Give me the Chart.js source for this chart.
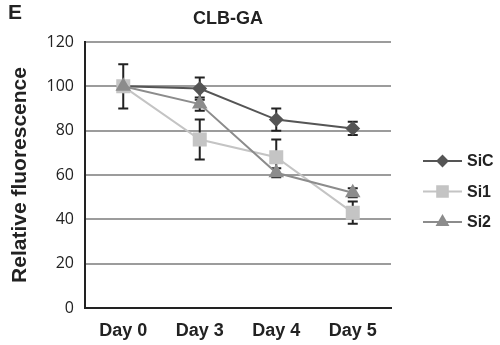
<!DOCTYPE html>
<html>
<head>
<meta charset="utf-8">
<script src="https://cdn.jsdelivr.net/npm/chart.js@4/dist/chart.umd.min.js"></script>
<style>
  html, body { margin: 0; padding: 0; background: #fff; }
  #wrap { width: 500px; height: 345px; position: relative; }
</style>
</head>
<body>
<div id="wrap"><canvas id="myChart" width="500" height="345"></canvas></div>
<script>
var days = ['Day 0', 'Day 3', 'Day 4', 'Day 5'];
var sicValues = [100, 99, 85, 81];
var si1Values = [100, 76, 68, 43];
var si2Values = [100, 92, 61, 52];
var sicErrors = [0, 5, 5, 3];
var si1Errors = [10, 9, 8, 5];
var si2Errors = [0, 3, 2, 2];
var yTicks = [0, 20, 40, 60, 80, 100, 120];

var seriesNames = ['SiC', 'Si1', 'Si2'];
var seriesColors = ['#555555', '#c4c4c4', '#8c8c8c'];
var seriesMarkers = ['rectRot', 'rect', 'triangle'];
var seriesRadius = [6, 8.5, 7];

var labelFont = 'Liberation Sans, Arial, sans-serif';

// error bars, drawn with the y scale before the lines so markers sit on top
var errorBars = {
  id: 'errorBars',
  beforeDatasetsDraw: function(chart) {
    var ctx = chart.ctx;
    var y = chart.scales.y;
    var errs = [sicErrors, si1Errors, si2Errors];
    ctx.save();
    ctx.strokeStyle = '#222';
    ctx.lineWidth = 2;
    for (var d = 0; d < chart.data.datasets.length; d++) {
      var meta = chart.getDatasetMeta(d);
      var vals = chart.data.datasets[d].data;
      for (var i = 0; i < meta.data.length; i++) {
        if (!errs[d][i]) continue;
        var px = meta.data[i].x;
        var top = y.getPixelForValue(vals[i] + errs[d][i]);
        var bot = y.getPixelForValue(vals[i] - errs[d][i]);
        ctx.beginPath();
        ctx.moveTo(px, top); ctx.lineTo(px, bot);
        ctx.moveTo(px - 5, top); ctx.lineTo(px + 5, top);
        ctx.moveTo(px - 5, bot); ctx.lineTo(px + 5, bot);
        ctx.stroke();
      }
    }
    ctx.restore();
  }
};

// legend with line + marker, the title and the panel letter
var sideLegend = {
  id: 'sideLegend',
  afterDraw: function(chart) {
    var ctx = chart.ctx;
    var area = chart.chartArea;
    var x0 = area.right + 32;
    var yStart = (area.top + area.bottom) / 2 - 14;
    ctx.save();
    for (var i = 0; i < seriesNames.length; i++) {
      var yy = yStart + i * 30.5;
      ctx.strokeStyle = seriesColors[i];
      ctx.lineWidth = 2;
      ctx.beginPath();
      ctx.moveTo(x0, yy); ctx.lineTo(x0 + 39, yy);
      ctx.stroke();
      ctx.fillStyle = seriesColors[i];
      ctx.beginPath();
      Chart.helpers.drawPoint(ctx, { pointStyle: seriesMarkers[i], radius: seriesRadius[i] - 1, borderWidth: 1 }, x0 + 19.5, yy);
      ctx.fill();
      ctx.fillStyle = '#222';
      ctx.font = 'bold 16px ' + labelFont;
      ctx.textBaseline = 'middle';
      ctx.textAlign = 'left';
      ctx.fillText(seriesNames[i], x0 + 44, yy + 1);
    }
    ctx.font = 'bold 21px ' + labelFont;
    ctx.fillText('E', 8, 13);
    ctx.font = 'bold 18px ' + labelFont;
    ctx.textAlign = 'center';
    ctx.fillText('CLB-GA', 228, 19);
    ctx.restore();
  }
};

function makeSet(i, values) {
  return {
    label: seriesNames[i],
    data: values,
    order: 3 - i,
    borderColor: seriesColors[i],
    backgroundColor: seriesColors[i],
    pointBackgroundColor: seriesColors[i],
    pointBorderColor: seriesColors[i],
    pointStyle: seriesMarkers[i],
    pointRadius: seriesRadius[i],
    borderWidth: 2,
    tension: 0
  };
}

var config = {
  type: 'line',
  data: {
    labels: days,
    datasets: [makeSet(0, sicValues), makeSet(1, si1Values), makeSet(2, si2Values)]
  },
  options: {
    responsive: false,
    animation: false,
    layout: { padding: { left: 0, right: 109, top: 42, bottom: 0 } },
    plugins: {
      legend: { display: false },
      tooltip: { enabled: false },
      title: { display: false }
    },
    scales: {
      x: {
        type: 'category',
        offset: true,
        grid: { display: false },
        border: { color: '#222', width: 2 },
        afterFit: function(scale) { scale.height = 37; },
        ticks: { color: '#222', font: { family: labelFont, size: 18, weight: 'bold' }, padding: 4 }
      },
      y: {
        min: 0,
        max: 120,
        afterBuildTicks: function(scale) {
          scale.ticks = yTicks.map(function(v) { return { value: v }; });
        },
        afterFit: function(scale) { scale.width = 85; },
        grid: { color: '#9c9c9c', lineWidth: 2, drawTicks: false },
        border: { color: '#222', width: 2 },
        ticks: { color: '#222', font: { family: 'Open Sans', size: 16 }, padding: 11 },
        title: {
          display: true,
          text: 'Relative fluorescence',
          color: '#222',
          font: { family: labelFont, size: 21, weight: 'bold' },
          padding: { top: 8, bottom: 0 }
        }
      }
    }
  },
  plugins: [errorBars, sideLegend]
};

var ctx = document.getElementById('myChart').getContext('2d');
window.myLine = new Chart(ctx, config);
</script>
</body>
</html>
